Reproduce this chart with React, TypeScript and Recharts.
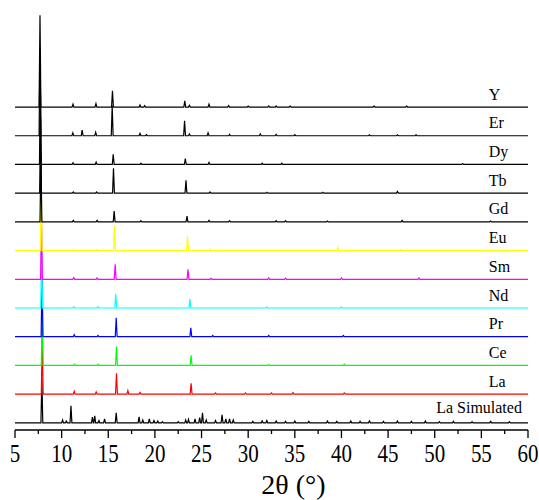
import React from 'react';
import { LineChart, Line, XAxis, YAxis, ReferenceDot } from 'recharts';

// peak readings per pattern: [2θ, relative intensity]
const yPeaks = [[7.68, 320], [11.22, 10], [13.68, 12], [15.45, 57], [18.4, 7], [18.9, 5], [23.2, 22], [23.7, 6], [25.8, 10], [27.9, 5], [30, 3], [32.2, 4], [33, 4], [34.5, 3], [43.5, 3], [47, 3]];
const erPeaks = [[7.68, 300], [11.2, 10], [12.2, 20], [13.65, 12], [15.42, 105], [18.4, 8], [19.1, 4], [23.18, 52], [23.7, 6], [25.7, 10], [28, 5], [31.3, 6], [33, 5], [35, 4], [43, 3], [46, 3], [48, 3]];
const dyPeaks = [[7.72, 260], [11.22, 6], [13.7, 8], [15.53, 35], [18.5, 4], [23.26, 20], [25.8, 7], [31.5, 4], [33.6, 4], [53, 3]];
const tbPeaks = [[7.74, 260], [11.25, 4], [13.75, 4], [15.56, 87], [23.33, 45], [25.9, 4], [32, 3], [38, 3], [46, 6]];
const gdPeaks = [[7.78, 230], [11.25, 5], [13.8, 5], [15.63, 38], [18.5, 4], [23.44, 20], [25.8, 5], [28, 4], [33, 4], [34, 4], [38.5, 3], [46.5, 5], [56, 3]];
const euPeaks = [[7.8, 270], [11.3, 4], [13.8, 4], [15.66, 87], [23.5, 50], [25.9, 5], [32, 3], [39.6, 12], [46.4, 4]];
const smPeaks = [[7.84, 220], [11.3, 6], [13.8, 5], [15.74, 52], [23.55, 35], [26, 4], [32.2, 5], [34, 4], [40, 5], [48.3, 5]];
const ndPeaks = [[7.86, 200], [11.3, 4], [13.9, 4], [15.8, 49], [23.75, 31], [32, 3], [40, 3]];
const prPeaks = [[7.9, 210], [11.35, 7], [13.9, 4], [15.85, 66], [23.85, 31], [26.2, 4], [32.2, 4], [40.2, 4]];
const cePeaks = [[7.92, 200], [11.4, 4], [13.9, 4], [15.88, 66], [23.88, 35], [32.2, 3], [40.3, 4]];
const laPeaks = [[7.92, 200], [11.35, 10], [13.7, 8], [15.88, 73], [17.1, 12], [18.4, 6], [23.88, 38], [26.5, 4], [29.7, 4], [32.5, 4], [34.8, 5], [40.3, 4]];
const laSimPeaks = [[7.88, 150], [10.1, 10], [10.5, 6], [11.0, 59], [13.3, 20], [13.55, 24], [14.0, 8], [14.6, 14], [15.85, 35], [18.3, 21], [18.7, 10], [19.4, 14], [19.9, 8], [20.3, 6], [20.8, 4], [22.5, 4], [23.3, 10], [23.6, 12], [24.3, 14], [24.8, 18], [25.1, 35], [25.5, 10], [26.5, 8], [27.2, 28], [27.6, 14], [28.0, 14], [28.4, 10], [30.5, 5], [31.5, 7], [32, 8], [33, 6], [34, 5], [35, 6], [36.5, 5], [38.5, 6], [39.5, 5], [41, 6], [42, 5], [43, 7], [44.5, 5], [46, 6], [47.5, 5], [49, 6], [50.5, 4], [52, 5], [54, 4], [56, 5], [58, 4]];

const sampleNames = ['La Simulated', 'La', 'Ce', 'Pr', 'Nd', 'Sm', 'Eu', 'Gd', 'Tb', 'Dy', 'Er', 'Y'];
const samplePeaks = [laSimPeaks, laPeaks, cePeaks, prPeaks, ndPeaks, smPeaks, euPeaks, gdPeaks, tbPeaks, dyPeaks, erPeaks, yPeaks];
const sampleColors = ['#000000', '#ff0000', '#00ff00', '#0000ff', '#00ffff', '#ff00ff', '#ffff00', '#000000', '#000000', '#000000', '#000000', '#000000'];

const xTicks = [5, 7.5, 10, 12.5, 15, 17.5, 20, 22.5, 25, 27.5, 30, 32.5, 35, 37.5, 40, 42.5, 45, 47.5, 50, 52.5, 55, 57.5, 60];

const STEP = 100;
const serif = { fontFamily: '"Liberation Serif", "Times New Roman", serif' };

// stick profile for each peak reading, shifted up by the stack offset
function buildPattern(peaks: number[][], offset: number) {
  const pts = [{ x: 5, y: offset }];
  peaks.forEach(([p, h]) => {
    pts.push({ x: p - 0.1, y: offset });
    pts.push({ x: p, y: offset + h });
    pts.push({ x: p + 0.1, y: offset });
  });
  pts.push({ x: 60, y: offset });
  return pts;
}

const AxisTick = ({ x, y, payload }: any) => {
  const major = payload.value % 5 === 0;
  return (
    <g>
      <line x1={x} y1={y} x2={x} y2={y + (major ? 8 : 4)} stroke="#000" strokeWidth={1.3} />
      {major && (
        // the reference digits are a little taller than wide
        <text
          transform={`translate(${x},${y + 32}) scale(1,1.15)`}
          textAnchor="middle"
          fontSize={21}
          style={serif}
          fill="#000"
        >
          {payload.value}
        </text>
      )}
    </g>
  );
};

export default function App() {
  return (
    <div style={{ position: 'absolute', left: 0, top: 0, background: '#fff' }}>
      <LineChart width={539} height={500} margin={{ top: 10, right: 11, left: 15, bottom: 0 }}>
        <XAxis
          type="number"
          dataKey="x"
          domain={[5, 60]}
          ticks={xTicks}
          interval={0}
          tickSize={0}
          tickMargin={0}
          tickLine={false}
          axisLine={{ stroke: '#000', strokeWidth: 1.5 }}
          tick={<AxisTick />}
          height={70}
          allowDataOverflow
          label={{
            content: ({ viewBox }: any) => (
              <text
                x={viewBox.x + viewBox.width / 2 + 22}
                y={494}
                textAnchor="middle"
                fontSize={28}
                style={serif}
                fill="#000"
              >
                2θ (°)
              </text>
            ),
          }}
        />
        <YAxis type="number" hide domain={[-25, 1438]} allowDataOverflow />
        {sampleNames.map((name, i) => (
          <Line
            key={name}
            data={buildPattern(samplePeaks[i], i * STEP)}
            dataKey="y"
            type="linear"
            stroke={sampleColors[i]}
            strokeWidth={1.2}
            dot={false}
            activeDot={false}
            isAnimationActive={false}
          />
        ))}
        {sampleNames.map((name, i) => {
          const last = i === 0;
          return (
            <ReferenceDot
              key={'lbl' + name}
              x={last ? 59.35 : 55.8}
              y={i * STEP + (last ? 35 : 26)}
              r={0}
              fill="none"
              stroke="none"
              label={{
                content: ({ viewBox }: any) => (
                  <text
                    x={viewBox.x}
                    y={viewBox.y}
                    textAnchor={last ? 'end' : 'start'}
                    fontSize={16}
                    style={serif}
                    fill="#000"
                  >
                    {name}
                  </text>
                ),
              }}
            />
          );
        })}
      </LineChart>
    </div>
  );
}
